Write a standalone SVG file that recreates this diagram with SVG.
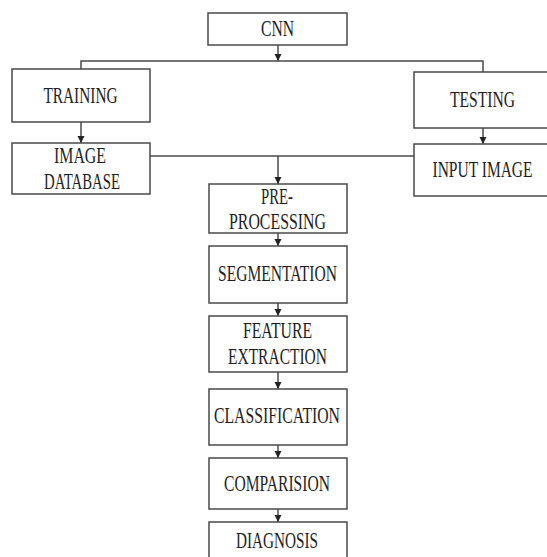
<svg xmlns="http://www.w3.org/2000/svg" width="547" height="557" viewBox="0 0 547 557">
<style>
.box{fill:#fff;stroke:#4a4a4a;stroke-width:1.5}
.lbl{font-family:"Liberation Serif","Times New Roman",serif;font-size:23px;fill:#1e1e1e;text-anchor:middle}
.ln{fill:none;stroke:#4a4a4a;stroke-width:1.5}
</style>
<defs>
<marker id="ah" markerWidth="8" markerHeight="8" refX="7" refY="4" orient="auto" markerUnits="userSpaceOnUse">
<path d="M0,0.5 L7,4 L0,7.5 Z" fill="#222"/>
</marker>
</defs>
<rect width="547" height="557" fill="#fff"/>
<g id="connectors">
<line class="ln" x1="278" y1="45" x2="278" y2="61" marker-end="url(#ah)"/>
<polyline class="ln" points="81,69 81,61 483,61 483,72"/>
<line class="ln" x1="81" y1="122" x2="81" y2="143" marker-end="url(#ah)"/>
<line class="ln" x1="483" y1="128" x2="483" y2="144" marker-end="url(#ah)"/>
<line class="ln" x1="150" y1="156" x2="414" y2="156"/>
<line class="ln" x1="278" y1="156" x2="278" y2="184" marker-end="url(#ah)"/>
<line class="ln" x1="278" y1="233" x2="278" y2="246" marker-end="url(#ah)"/>
<line class="ln" x1="278" y1="303" x2="278" y2="316" marker-end="url(#ah)"/>
<line class="ln" x1="278" y1="372" x2="278" y2="389" marker-end="url(#ah)"/>
<line class="ln" x1="278" y1="445" x2="278" y2="458" marker-end="url(#ah)"/>
<line class="ln" x1="278" y1="509" x2="278" y2="522" marker-end="url(#ah)"/>
</g>
<g id="cnn"><rect class="box" x="208" y="13" width="139" height="32"/><text class="lbl" x="277.5" y="36" textLength="33" lengthAdjust="spacingAndGlyphs">CNN</text></g>
<g id="training"><rect class="box" x="12" y="69" width="138" height="53"/><text class="lbl" x="80.5" y="102.5" textLength="74" lengthAdjust="spacingAndGlyphs">TRAINING</text></g>
<g id="testing"><rect class="box" x="414" y="72" width="140" height="56"/><text class="lbl" x="482.5" y="107" textLength="65" lengthAdjust="spacingAndGlyphs">TESTING</text></g>
<g id="image-database"><rect class="box" x="12" y="143" width="138" height="51"/><text class="lbl" x="80" y="163" textLength="52" lengthAdjust="spacingAndGlyphs">IMAGE</text><text class="lbl" x="82" y="189" textLength="76" lengthAdjust="spacingAndGlyphs">DATABASE</text></g>
<g id="input-image"><rect class="box" x="414" y="144" width="140" height="52"/><text class="lbl" x="482.5" y="177.3" textLength="100" lengthAdjust="spacingAndGlyphs">INPUT IMAGE</text></g>
<g id="pre-processing"><rect class="box" x="209" y="184" width="138" height="49"/><text class="lbl" x="277" y="204" textLength="32" lengthAdjust="spacingAndGlyphs">PRE-</text><text class="lbl" x="277.5" y="229" textLength="97" lengthAdjust="spacingAndGlyphs">PROCESSING</text></g>
<g id="segmentation"><rect class="box" x="209" y="246" width="138" height="57"/><text class="lbl" x="277.5" y="281" textLength="119" lengthAdjust="spacingAndGlyphs">SEGMENTATION</text></g>
<g id="feature-extraction"><rect class="box" x="209" y="316" width="138" height="56"/><text class="lbl" x="277.5" y="338" textLength="69" lengthAdjust="spacingAndGlyphs">FEATURE</text><text class="lbl" x="277.5" y="364" textLength="99" lengthAdjust="spacingAndGlyphs">EXTRACTION</text></g>
<g id="classification"><rect class="box" x="209" y="389" width="138" height="56"/><text class="lbl" x="277" y="423" textLength="126" lengthAdjust="spacingAndGlyphs">CLASSIFICATION</text></g>
<g id="comparision"><rect class="box" x="209" y="458" width="138" height="51"/><text class="lbl" x="277" y="491" textLength="106" lengthAdjust="spacingAndGlyphs">COMPARISION</text></g>
<g id="diagnosis"><rect class="box" x="209" y="522" width="138" height="40"/><text class="lbl" x="277" y="548" textLength="82" lengthAdjust="spacingAndGlyphs">DIAGNOSIS</text></g>
</svg>
